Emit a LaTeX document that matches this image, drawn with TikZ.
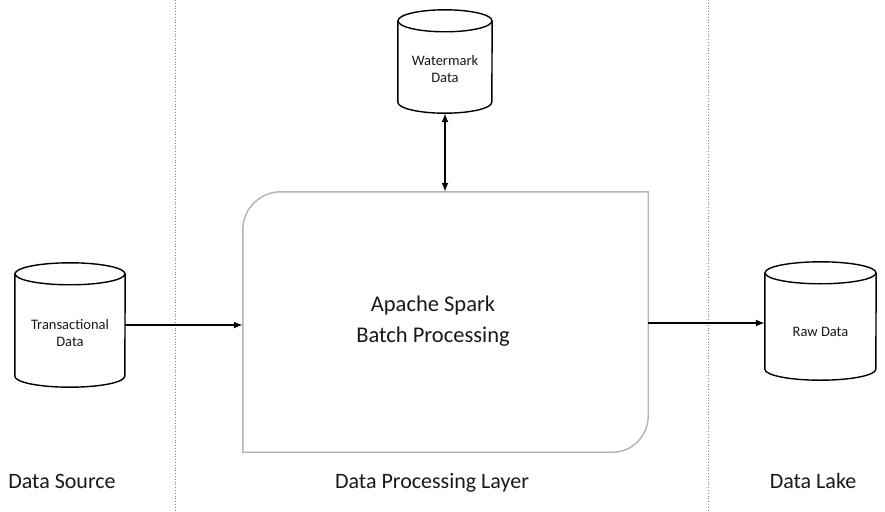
\documentclass[tikz,border=0pt]{standalone}
\usepackage{fontspec}
\setmainfont{Carlito}
\usetikzlibrary{arrows.meta,calc}
\tikzset{
  cylbox/.style={draw=none, inner sep=0pt, rectangle},
  cylline/.style={draw=black, line width=1.4pt},
  cyltext/.style={font=\fontsize{14.5}{17.5}\selectfont, text=black!90, align=center, inner sep=0pt},
  bigtext/.style={font=\fontsize{22.5}{31}\selectfont, text=black!90, align=center, inner sep=0pt},
  laytext/.style={font=\fontsize{22}{24}\selectfont, text=black!90, anchor=base, inner sep=0pt},
  boxline/.style={draw=black!30, line width=1.4pt},
  sepline/.style={draw=black!50, line width=0.8pt, dotted},
  arr/.style={draw=black, line width=1.5pt, -{Latex[length=9pt,width=7pt]}},
  darr/.style={draw=black, line width=1.5pt, {Latex[length=9pt,width=7pt]}-{Latex[length=9pt,width=7pt]}},
}
\newcommand\mydrawcyl[2]{%
  \draw[cylline] ([yshift=-11pt]#1.north west) -- ([yshift=11pt]#1.south west)
     arc[start angle=180, end angle=360, x radius=#2, y radius=11pt]
     -- ([yshift=-11pt]#1.north east);
  \draw[cylline] ([yshift=-11pt]#1.north) ellipse[x radius=#2, y radius=11pt];
}
\begin{document}
\begin{tikzpicture}[x=1pt,y=-1pt]
\useasboundingbox (0,0) rectangle (885,511);
\fill[white] (0,0) rectangle (885,511);

% separators
\coordinate (s1t) at (175,0); \coordinate (s1b) at (175,511);
\coordinate (s2t) at (708,0); \coordinate (s2b) at (708,511);
\draw[sepline] (s1t) -- (s1b);
\draw[sepline] (s2t) -- (s2b);

% big processing box
\node[cylbox, minimum width=405pt, minimum height=260pt] (box) at (445.5,322) {};
\draw[boxline] (box.south west) -- ([yshift=-38pt]box.north west)
   arc[start angle=180, end angle=90, radius=38pt]
   -- (box.north east) -- ([yshift=36pt]box.south east)
   arc[start angle=0, end angle=-90, radius=36pt] -- cycle;
\node[bigtext] (boxlabel) at (433,321) {Apache Spark\\Batch Processing};

% cylinders
\node[cylbox, minimum width=94pt, minimum height=103pt] (wm) at (445,61.5) {};
\mydrawcyl{wm}{47pt}
\node[cyltext] (wmt) at (445,69) {Watermark\\Data};

\node[cylbox, minimum width=110pt, minimum height=124pt] (trans) at (70,325) {};
\mydrawcyl{trans}{55pt}
\node[cyltext] (transt) at (70,333) {Transactional\\Data};

\node[cylbox, minimum width=111pt, minimum height=118pt] (raw) at (820.5,321) {};
\mydrawcyl{raw}{55.5pt}
\node[cyltext] (rawt) at (820.5,332) {Raw Data};

% connectors
\draw[arr] (trans.east) -- (trans.east -| box.west);
\draw[arr] ([yshift=-2pt]raw.west -| box.east) -- ([yshift=-2pt]raw.west);
\draw[darr] (wm.south) -- (wm.south |- box.north);

% layer labels
\node[laytext] (l1) at (62,488) {Data Source};
\node[laytext] (l2) at (432,488) {Data Processing Layer};
\node[laytext] (l3) at (813,488) {Data Lake};
\end{tikzpicture}
\end{document}
